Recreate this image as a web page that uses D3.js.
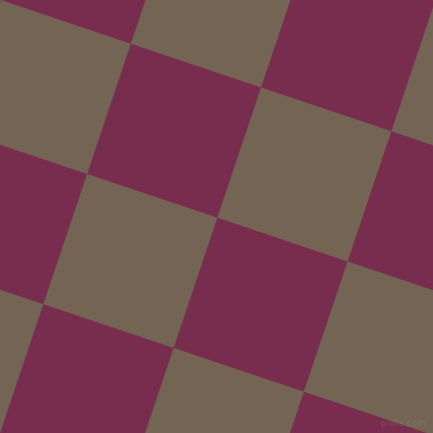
<!DOCTYPE html>
<html lang="en">
<head>
    <meta charset="UTF-8">
    <title>Checkered pattern</title>
    <script src="https://cdn.jsdelivr.net/npm/d3@7"></script>
    <style>
        body { margin: 0; background: #736454; }
        svg { display: block; }
    </style>
</head>
<body>
    <div id="chart"></div>

    <script>
        // grid cells (column / row index of each square)
        const cols = [-2, -1, 0, 1, 2, 3];
        const rows = [-2, -1, 0, 1, 2, 3];
        // the two colours of the board
        const palette = ["#782d4f", "#736454"];
        const watermark = ["pixlls.com"];

        const width = 433, height = 433;
        // one corner of the grid and one edge vector
        const origin = [131, 44];
        const edge = [130.25, 43.75];
        const side = Math.hypot(edge[0], edge[1]);
        const angle = Math.atan2(edge[1], edge[0]) * 180 / Math.PI;

        const svg = d3.select("#chart")
          .append("svg")
            .attr("width", width)
            .attr("height", height);

        const x = d3.scaleLinear().domain([0, 1]).range([0, side]);
        const y = d3.scaleLinear().domain([0, 1]).range([0, side]);

        const cells = [];
        rows.forEach(r => cols.forEach(c => cells.push({ r, c })));

        const color = d3.scaleOrdinal().domain([0, 1]).range(palette);

        const g = svg.append("g")
            .attr("transform", `translate(${origin[0]},${origin[1]}) rotate(${angle})`);

        g.selectAll("rect")
          .data(cells)
          .join("rect")
            .attr("x", d => x(d.c))
            .attr("y", d => y(d.r))
            .attr("width", x(1) - x(0))
            .attr("height", y(1) - y(0))
            .attr("fill", d => color(Math.abs(d.r + d.c) % 2))
            .attr("stroke", d => color(Math.abs(d.r + d.c) % 2))
            .attr("stroke-width", 0.4);

        svg.selectAll("text.mark")
          .data(watermark)
          .join("text")
            .attr("class", "mark")
            .attr("x", 426)
            .attr("y", 426)
            .attr("text-anchor", "end")
            .attr("font-family", "DejaVu Sans, sans-serif")
            .attr("font-size", 9)
            .attr("fill", "#ffffff")
            .attr("fill-opacity", 0.12)
            .text(d => d);
    </script>
</body>
</html>
